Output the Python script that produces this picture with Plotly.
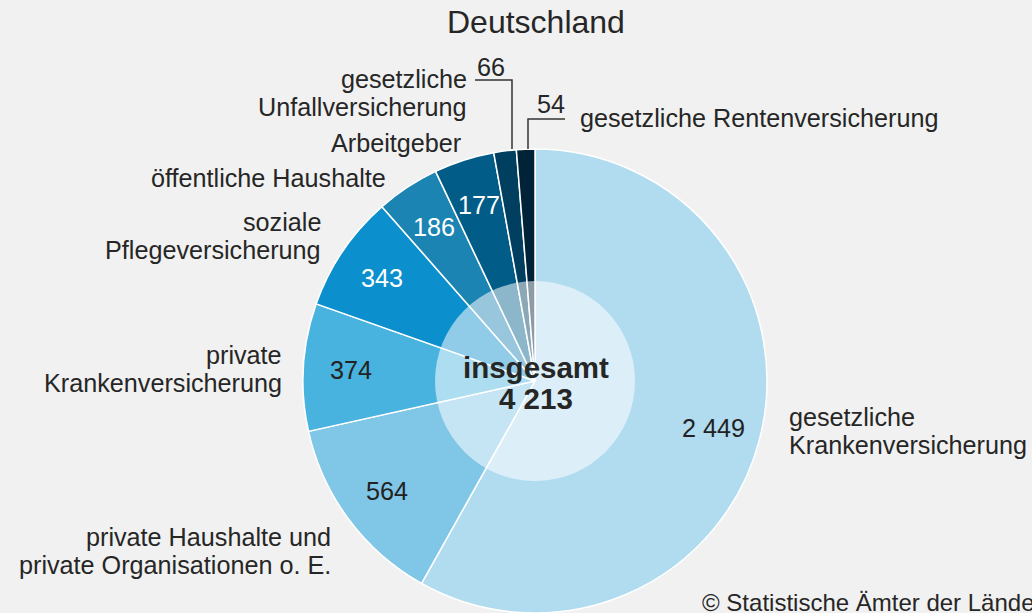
import math
import plotly.graph_objects as go

# ---------------- data ----------------
TITLE = "Deutschland"
CATEGORIES = [
    "gesetzliche Krankenversicherung",
    "private Haushalte und private Organisationen o. E.",
    "private Krankenversicherung",
    "soziale Pflegeversicherung",
    "öffentliche Haushalte",
    "Arbeitgeber",
    "gesetzliche Unfallversicherung",
    "gesetzliche Rentenversicherung",
]
LABEL_LINES = [
    ["gesetzliche", "Krankenversicherung"],
    ["private Haushalte und", "private Organisationen o. E."],
    ["private", "Krankenversicherung"],
    ["soziale", "Pflegeversicherung"],
    ["öffentliche Haushalte"],
    ["Arbeitgeber"],
    ["gesetzliche", "Unfallversicherung"],
    ["gesetzliche Rentenversicherung"],
]
VALUES = [2449, 564, 374, 343, 186, 177, 66, 54]
TOTAL_LABEL = "insgesamt"
SOURCE = "© Statistische Ämter der Länder"

# ---------------- styles ----------------
COLORS = ["#b1dcf0", "#80c6e6", "#48b3de", "#0b8fcd",
          "#1b84b3", "#015d87", "#003f60", "#002338"]
VALUE_COLORS = ["#222222", "#222222", "#222222", "#ffffff",
                "#ffffff", "#ffffff", None, None]
W, H = 1032, 613
BG = "#f1f1f1"
TXT = "#262626"
FONT = "Liberation Sans, Arial, sans-serif"
CX, CY, R, R_IN = 535, 381, 232, 100
VALUE_R = 0.795
FS = 25.2
LINE_GAP = 28

# outer label positions: (x, first line y, xanchor)
LABEL_POS = [
    (787, 417, "left"),
    (333, 537, "right"),
    (284, 355, "right"),
    (323, 222, "right"),
    (388, 178, "right"),
    (463, 143, "right"),
    (469, 79, "right"),
    (578, 118, "left"),
]
# outside value labels for the two thin slices
OUT_VALUE_POS = {6: (491, 67), 7: (551, 104)}
LEADERS = {
    6: [(475, 80), (512, 80), (512, 149)],
    7: [(528, 149), (528, 119), (565, 119)],
}


def px(x):
    return x / W


def py(y):
    return 1 - y / H


def fmt(v):
    return f"{v:,}".replace(",", " ")


fig = go.Figure()
fig.add_trace(go.Pie(
    labels=CATEGORIES, values=VALUES, sort=False, direction="clockwise",
    rotation=0, hole=0, textinfo="none", hoverinfo="skip", showlegend=False,
    marker=dict(colors=COLORS, line=dict(color="white", width=1.5)),
    domain=dict(x=[px(CX - R), px(CX + R)], y=[py(CY + R), py(CY - R)]),
))

ann = []
total = sum(VALUES)
cum = 0
for i, v in enumerate(VALUES):
    mid = (cum + v / 2) / total
    cum += v
    th = 2 * math.pi * mid
    if VALUE_COLORS[i] is not None:
        x = CX + VALUE_R * R * math.sin(th)
        y = CY - VALUE_R * R * math.cos(th)
        ann.append(dict(x=px(x), y=py(y), text=fmt(v), showarrow=False,
                        xanchor="center", yanchor="middle",
                        font=dict(size=FS, color=VALUE_COLORS[i], family=FONT)))
    else:
        ox, oy = OUT_VALUE_POS[i]
        ann.append(dict(x=px(ox), y=py(oy), text=fmt(v), showarrow=False,
                        xanchor="center", yanchor="middle",
                        font=dict(size=FS, color=TXT, family=FONT)))

for lines, (lx, ly, anc) in zip(LABEL_LINES, LABEL_POS):
    for k, line in enumerate(lines):
        ann.append(dict(x=px(lx), y=py(ly + k * LINE_GAP), text=line, showarrow=False,
                        xanchor=anc, yanchor="middle",
                        font=dict(size=FS, color=TXT, family=FONT)))

# center total
ann.append(dict(x=px(CX + 1), y=py(CY - 14), text=f"<b>{TOTAL_LABEL}</b>", showarrow=False,
                xanchor="center", yanchor="middle",
                font=dict(size=29.5, color=TXT, family=FONT)))
ann.append(dict(x=px(CX + 1), y=py(CY + 17), text=f"<b>{fmt(total)}</b>", showarrow=False,
                xanchor="center", yanchor="middle",
                font=dict(size=29.5, color=TXT, family=FONT)))

# title and source
ann.append(dict(x=px(536), y=py(22), text=TITLE, showarrow=False,
                xanchor="center", yanchor="middle",
                font=dict(size=32, color=TXT, family=FONT)))
ann.append(dict(x=px(700), y=py(602), text=SOURCE, showarrow=False,
                xanchor="left", yanchor="middle",
                font=dict(size=24, color=TXT, family=FONT)))

shapes = [dict(type="circle", xref="paper", yref="paper", layer="above",
               x0=px(CX - R_IN), x1=px(CX + R_IN), y0=py(CY + R_IN), y1=py(CY - R_IN),
               fillcolor="rgba(255,255,255,0.55)", line=dict(width=0))]
for pts in LEADERS.values():
    path = "M " + " L ".join(f"{px(x)},{py(y)}" for x, y in pts)
    shapes.append(dict(type="path", xref="paper", yref="paper", path=path,
                       line=dict(color="#333333", width=1.5)))

fig.update_layout(
    width=W, height=H, margin=dict(l=0, r=0, t=0, b=0),
    paper_bgcolor=BG, plot_bgcolor=BG,
    annotations=ann, shapes=shapes,
)
fig.write_html(
    "out.html",
    config={"displayModeBar": False},
    post_script="document.body.style.margin='0';document.body.style.padding='0';"
                "document.body.style.overflow='hidden';",
)
